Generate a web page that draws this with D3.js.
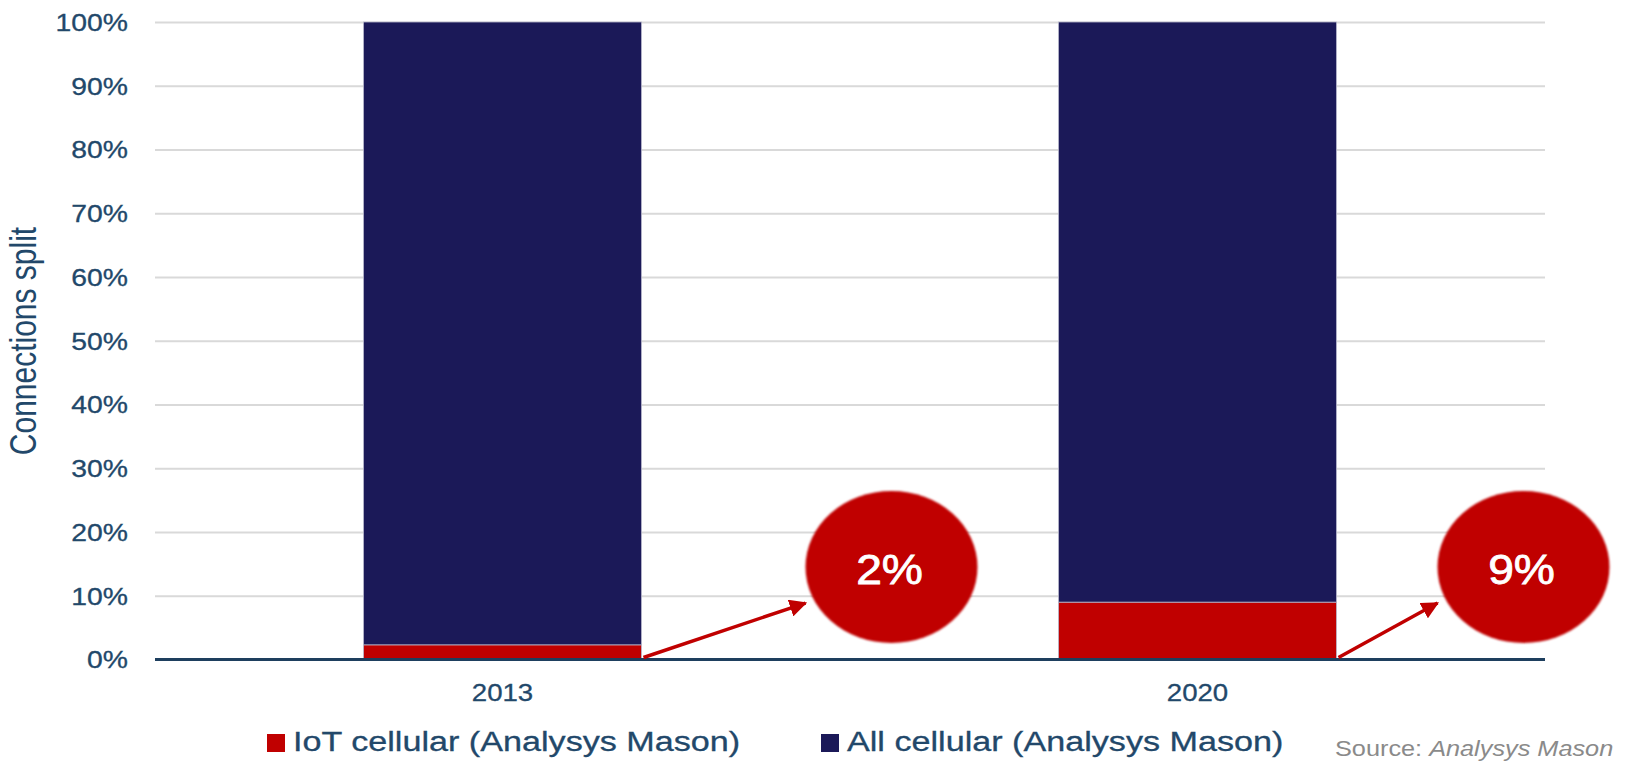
<!DOCTYPE html>
<html><head><meta charset="utf-8">
<script src="https://cdn.jsdelivr.net/npm/d3@7"></script>
<style>
html,body{margin:0;padding:0;background:#fff;}
svg{display:block;font-family:"Liberation Sans",Arial,sans-serif;}
</style></head>
<body>
<svg id="chart" width="1647" height="762"></svg>
<script>
// ---- data ----
const categories = ["2013", "2020"];
const iotCellular = [2.3, 9];        // IoT cellular (Analysys Mason), % share
const allCellular = [97.7, 91];      // All cellular (Analysys Mason), remaining %
const seriesNames = ["IoT cellular (Analysys Mason)", "All cellular (Analysys Mason)"];
const calloutLabels = ["2%", "9%"];
const yTicks = [0, 10, 20, 30, 40, 50, 60, 70, 80, 90, 100];
const yTitle = "Connections split";
const sourceNote = ["Source: ", "Analysys Mason"];

(function () {
// ---- layout ----
const svg = d3.select("#chart");
const mLeft = 155, mRight = 1545, mTop = 22, mBottom = 659.5;
const navy = "#1b1958", red = "#c00000", textCol = "#22486a";

const x = d3.scaleBand().domain(categories).range([mLeft, mRight]).paddingInner(0.6).paddingOuter(0.3);
const y = d3.scaleLinear().domain([0, 100]).range([mBottom, mTop]);

// gridlines + y labels
const yAxis = d3.axisLeft(y).tickValues(yTicks).tickSize(-(mRight - mLeft)).tickPadding(0)
  .tickFormat(d => d + "%");
const gy = svg.append("g").attr("transform", `translate(${mLeft},0)`).call(yAxis);
gy.select(".domain").remove();
gy.selectAll(".tick line").attr("stroke", "#d9d9d9").attr("stroke-width", 2);
gy.selectAll(".tick text")
  .attr("fill", textCol).attr("font-size", 24)
  .attr("x", -27 / 1.18).attr("dy", "0.35em")
  .attr("transform", "scale(1.18,1)")
  .attr("stroke", textCol).attr("stroke-width", 0.3)
  .attr("font-family", "Liberation Sans, Arial, sans-serif");

// stacked bars
const rows = categories.map((c, i) => ({cat: c, iot: iotCellular[i], all: allCellular[i]}));
const stack = d3.stack().keys(["iot", "all"])(rows);
const colors = {iot: red, all: navy};
svg.append("g").selectAll("g").data(stack).join("g")
  .attr("fill", d => colors[d.key])
  .selectAll("rect").data(d => d).join("rect")
  .attr("x", d => x(d.data.cat))
  .attr("width", x.bandwidth())
  .attr("y", d => y(d[1]))
  .attr("height", d => y(d[0]) - y(d[1]))
  .attr("stroke", "#b9b9cc").attr("stroke-width", 0.8);

// baseline
svg.append("line").attr("x1", mLeft).attr("x2", mRight).attr("y1", y(0)).attr("y2", y(0))
  .attr("stroke", "#1e3f5e").attr("stroke-width", 3);

// x labels
const xAxis = d3.axisBottom(x).tickSize(0).tickPadding(0);
const gx = svg.append("g").attr("transform", `translate(0,${y(0)})`).call(xAxis);
gx.select(".domain").remove();
gx.selectAll(".tick text").attr("fill", textCol).attr("font-size", 24)
  .attr("y", 42).attr("dy", 0)
  .attr("transform", "scale(1.15,1)")
  .attr("stroke", textCol).attr("stroke-width", 0.3)
  .attr("font-family", "Liberation Sans, Arial, sans-serif");

// y title
svg.append("text").attr("transform", "translate(36,341) scale(1.2,1) rotate(-90)")
  .attr("text-anchor", "middle").attr("fill", textCol).attr("font-size", 30).text(yTitle);

// callouts
const defs = svg.append("defs");
defs.append("marker").attr("id", "arrow").attr("viewBox", "0 0 10 10")
  .attr("refX", 9).attr("refY", 5).attr("markerWidth", 5).attr("markerHeight", 5)
  .attr("orient", "auto").attr("markerUnits", "strokeWidth")
  .append("path").attr("d", "M0,0 L10,5 L0,10 z").attr("fill", red);
const filt = defs.append("filter").attr("id", "soft").attr("x", "-20%").attr("y", "-20%").attr("width", "140%").attr("height", "140%");
filt.append("feGaussianBlur").attr("stdDeviation", 0.8);

const bubbleOffset = [250, 187];   // horizontal distance from bar's right edge to bubble centre
categories.forEach((c, i) => {
  const bx = x(c) + x.bandwidth();
  const cx = bx + bubbleOffset[i];
  const cy = y(14.5);
  svg.append("line")
    .attr("x1", bx + 2).attr("y1", y(0) - 2)
    .attr("x2", cx - 86).attr("y2", cy + 36)
    .attr("stroke", red).attr("stroke-width", 3.5).attr("marker-end", "url(#arrow)");
  svg.append("ellipse").attr("cx", cx).attr("cy", cy).attr("rx", 86).attr("ry", 76)
    .attr("fill", red).attr("filter", "url(#soft)");
  svg.append("text").attr("transform", `translate(${cx - 2},${cy + 17}) scale(1.1,1)`)
    .attr("text-anchor", "middle").attr("fill", "#fff").attr("font-size", 42)
    .attr("stroke", "#fff").attr("stroke-width", 0.8)
    .text(calloutLabels[i]);
});

// legend
const legendX = [267, 821];
seriesNames.forEach((name, i) => {
  svg.append("rect").attr("x", legendX[i]).attr("y", 734).attr("width", 18).attr("height", 18)
    .attr("fill", i === 0 ? red : navy);
  svg.append("text").attr("transform", `translate(${legendX[i] + 26},751) scale(1.22,1)`)
    .attr("fill", textCol).attr("font-size", 28)
    .attr("stroke", textCol).attr("stroke-width", 0.3).text(name);
});

// source
const src = svg.append("text").attr("transform", "translate(1335,756) scale(1.15,1)")
  .attr("fill", "#8a8a8a").attr("font-size", 22);
src.append("tspan").text(sourceNote[0]);
src.append("tspan").attr("font-style", "italic").text(sourceNote[1]);
})();
</script>
</body></html>
